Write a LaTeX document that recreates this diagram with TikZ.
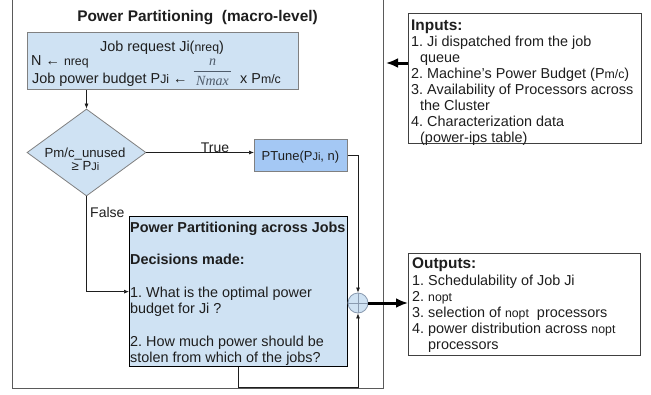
\documentclass[tikz,border=0pt]{standalone}
\usepackage{amsmath}
\usepackage{fontspec}
\setmainfont{Liberation Sans}
\newfontfamily\fracfont{Liberation Serif}
\usetikzlibrary{shapes.geometric,arrows.meta}
\definecolor{boxfill}{HTML}{CFE2F3}
\definecolor{tunefill}{HTML}{A4C8F4}
\definecolor{boxline}{HTML}{808080}
\definecolor{framecol}{HTML}{5A5A5A}
\definecolor{iocol}{HTML}{404040}
\definecolor{inkcol}{HTML}{1E1E1E}
\definecolor{fraccol}{HTML}{4F5C6B}
\definecolor{sumcol}{HTML}{8A9BB0}
% small subscript-like text set on the baseline
\newcommand\sm[1]{{\fontsize{12.3}{13}\selectfont #1}}
\newcommand\smd[1]{{\fontsize{11}{12}\selectfont #1}}
\frenchspacing
\begin{document}
\begin{tikzpicture}[x=1pt,y=-1pt,
  txt/.style={inner sep=0pt, text=inkcol, font=\fontsize{14.4}{16.3}\selectfont},
  bluebox/.style={draw=boxline, fill=boxfill, line width=0.8pt, inner sep=0pt, anchor=north west},
  tunebox/.style={bluebox, fill=tunefill},
  ppjbox/.style={draw=black, fill=boxfill, line width=1.3pt, inner sep=0pt, anchor=north west},
  iobox/.style={draw=iocol, fill=white, line width=0.9pt, inner sep=0pt, anchor=north west},
  framebox/.style={draw=framecol, line width=1.2pt, inner sep=0pt, anchor=north west},
  arr/.style={draw=inkcol, line width=0.7pt, -{Latex[length=5pt,width=4pt]}},
  bigarr/.style={draw=black, line width=3pt, -{Latex[length=12pt,width=10pt]}}]
\useasboundingbox (0,0) rectangle (651,394);

% outer frame of the macro-level stage (its top edge lies above the page)
\node[framebox, minimum width=371pt, minimum height=392pt] (frame) at (12,-4) {};

% boxes
\node[bluebox, minimum width=271pt, minimum height=57pt] (job) at (27,32) {};
\node[diamond, draw=boxline, fill=boxfill, line width=0.8pt, inner sep=0pt,
      minimum width=119pt, minimum height=87pt] (dia) at (86.5,152.5) {};
\node[tunebox, minimum width=93pt, minimum height=32pt] (ptune) at (254,139) {};
\node[ppjbox, minimum width=218pt, minimum height=150pt] (ppj) at (129,216) {};
\node[circle, draw=sumcol, fill=boxfill, line width=0.8pt, inner sep=0pt, minimum size=20pt,
      path picture={\draw[sumcol, line width=0.7pt]
        (path picture bounding box.north) -- (path picture bounding box.south)
        (path picture bounding box.west) -- (path picture bounding box.east);}] (sum) at (358,303) {};
\node[iobox, minimum width=233pt, minimum height=130pt] (inb) at (408,13) {};
\node[iobox, minimum width=232pt, minimum height=102pt] (outb) at (408,253) {};

% connectors
\coordinate (inarr) at (386,63);
\coordinate (botc) at (300,387.5);
\draw[arr] (dia.north |- job.south) -- (dia.north);
\draw[arr] (dia.east) -- (dia.east -| ptune.west);
\draw[arr] (dia.south) |- (ppj.west);
\draw[arr] (ptune.east) -| (sum.north);
\draw[arr] (ppj.south) -- (ppj.south |- botc) -| (sum.south);
\draw[bigarr] (inb.west |- inarr) -- (inarr);
\draw[bigarr] (sum.east) -- (outb.west |- sum.east);

% texts
\node[txt, font=\fontsize{15.4}{18}\selectfont\bfseries, anchor=base] (title) at (197.5,21)
  {Power Partitioning\ \ (macro-level)};
\node[txt, anchor=base] (jl1) at (162,51.5) {Job request Ji(\sm{nreq})};
\node[txt, anchor=base west] (jl2) at (31,65) {N ← \sm{nreq}};
\node[txt, anchor=base west] (jl3) at (32,83) {Job power budget P\sm{Ji} ←};
\node[inner sep=0pt, text=fraccol, anchor=base] (frac) at (212.5,75.5)
  {\fontsize{14}{14}\selectfont$\genfrac{}{}{1pt}{0}{\hbox{\fracfont\itshape n}}{\hbox{\kern2.5pt\fracfont\itshape Nmax\kern2.5pt}}$};
\node[txt, anchor=base west] (jl3b) at (240,83) {x P\sm{m/c}};

\node[txt, font=\fontsize{13.2}{14}\selectfont, anchor=base] (dl1) at (85,157.3) {Pm/c\_unused};
\node[txt, font=\fontsize{13.2}{14}\selectfont, anchor=base] (dl2) at (85.5,170.5) {≥ P\smd{Ji}};

\node[txt, font=\fontsize{13}{14}\selectfont, anchor=base] (ptt) at (300.5,160) {PTune(P\smd{Ji}, n)};
\node[txt, font=\fontsize{14}{16}\selectfont, anchor=base] (truel) at (215,152) {True};
\node[txt, font=\fontsize{14}{16}\selectfont, anchor=base west] (falsel) at (90,217) {False};

\node[txt, anchor=base west] (ppjt) at (130,232) {\begin{tabular}[t]{@{}l@{}}
  \textbf{Power Partitioning across Jobs}\\ \\
  \textbf{Decisions made:}\\ \\
  1. What is the optimal power\\
  budget for Ji ?\\ \\
  2. How much power should be\\
  stolen from which of the jobs?\end{tabular}};

\node[txt, font=\fontsize{14.4}{16}\selectfont, anchor=base west] (inbt) at (411,30.5) {\begin{tabular}[t]{@{}l@{}}
  {\fontsize{15.4}{16}\selectfont\bfseries Inputs:}\\[0.3pt]
  1. Ji dispatched from the job\\
  \hspace*{9pt}queue\\
  2. Machine's Power Budget (P\sm{m/c})\\
  3. Availability of Processors across\\
  \hspace*{9pt}the Cluster\\
  4. Characterization data\\
  \hspace*{9pt}(power-ips table)\end{tabular}};

\node[txt, font=\fontsize{14.4}{16}\selectfont, anchor=base west] (outbt) at (412,268) {\begin{tabular}[t]{@{}l@{}}
  {\fontsize{15.4}{16}\selectfont\bfseries Outputs:}\\[1pt]
  1. Schedulability of Job Ji\\
  2. \sm{nopt}\\
  3. selection of \sm{nopt}\ \ processors\\
  4. power distribution across \sm{nopt}\\
  \hspace*{16pt}processors\end{tabular}};
\end{tikzpicture}
\end{document}
